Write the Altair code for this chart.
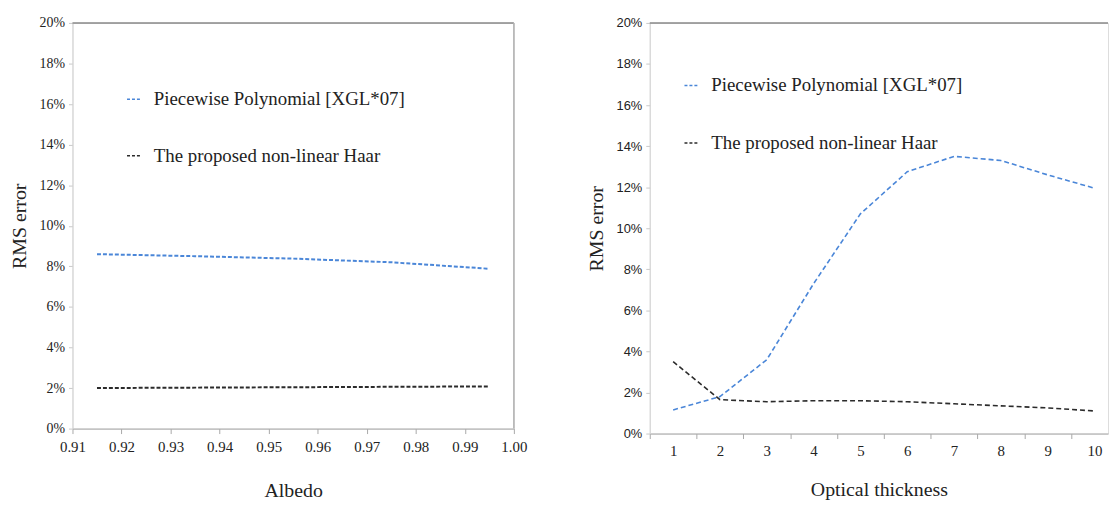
import altair as alt
import pandas as pd

series = ["Piecewise Polynomial [XGL*07]", "The proposed non-linear Haar"]
colors = ["#4a86d8", "#2b2b2b"]

# Left panel: Albedo
albedo = [0.915, 0.935, 0.955, 0.975, 0.995]
albedo_poly = [8.6, 8.5, 8.38, 8.2, 7.88]
albedo_haar = [2.0, 2.02, 2.04, 2.06, 2.08]

# Right panel: Optical thickness
thick = [1, 2, 3, 4, 5, 6, 7, 8, 9, 10]
thick_poly = [1.15, 1.8, 3.6, 7.3, 10.7, 12.75, 13.5, 13.3, 12.6, 11.95]
thick_haar = [3.5, 1.65, 1.55, 1.6, 1.6, 1.55, 1.45, 1.35, 1.25, 1.1]
thick_bounds = [0.5, 1.5, 2.5, 3.5, 4.5, 5.5, 6.5, 7.5, 8.5, 9.5]

SERIF = "Liberation Serif"
SANS = "Liberation Sans"

dfL = pd.DataFrame({
    "x": albedo * 2,
    "y": albedo_poly + albedo_haar,
    "s": [series[0]] * len(albedo) + [series[1]] * len(albedo),
})
dfR = pd.DataFrame({
    "x": thick * 2,
    "y": thick_poly + thick_haar,
    "s": [series[0]] * len(thick) + [series[1]] * len(thick),
})

color_scale = alt.Scale(domain=series, range=colors)
ysc = alt.Scale(domain=[0, 20], nice=False)

yaxis_common = dict(
    values=[0, 2, 4, 6, 8, 10, 12, 14, 16, 18, 20],
    labelExpr="datum.value + '%'",
    title="RMS error",
    titleFont=SERIF, titleFontSize=20, titleFontWeight="normal", titleColor="#222",
    labelColor="#222",
    domainColor="#d4d4d4", tickColor="#c8c8c8", tickSize=4,
    grid=False, labelPadding=4, titlePadding=10,
)


def legend_layers(x0, y0, dy):
    layers = []
    for i, name in enumerate(series):
        ly = y0 + i * dy
        d = pd.DataFrame({"s": [name]})
        layers.append(
            alt.Chart(d).mark_rule(strokeWidth=1.5, strokeDash=[3, 2]).encode(
                x=alt.value(x0), x2=alt.value(x0 + 15), y=alt.value(ly),
                color=alt.Color("s:N", scale=color_scale, legend=None),
            )
        )
        layers.append(
            alt.Chart(d).mark_text(align="left", baseline="middle", font=SERIF,
                                   fontSize=19, color="#222").encode(
                x=alt.value(x0 + 27), y=alt.value(ly), text="s:N"
            )
        )
    return layers


def border(w, h, right_side):
    d = pd.DataFrame({"b": [0]})
    out = [alt.Chart(d).mark_rule(color="#8a8a8a", strokeWidth=1.5).encode(
        x=alt.value(0), x2=alt.value(w), y=alt.value(0))]
    if right_side:
        out.append(alt.Chart(d).mark_rule(color="#b0b0b0", strokeWidth=1.5).encode(
            x=alt.value(w), y=alt.value(0), y2=alt.value(h)))
    return out


# Left chart
WL, HL = 445, 409
xL = alt.X("x:Q", scale=alt.Scale(domain=[0.91, 1.0], nice=False, zero=False),
           axis=alt.Axis(values=[0.91, 0.92, 0.93, 0.94, 0.95, 0.96, 0.97, 0.98, 0.99, 1.0],
                         format=".2f", title="Albedo", titleFont=SERIF, titleFontSize=20,
                         titleFontWeight="normal", titleColor="#222", titlePadding=26,
                         labelFont=SERIF, labelFontSize=15, labelColor="#222",
                         labelFlush=False, orient="bottom",
                         domainColor="#a8a8a8", tickColor="#a8a8a8", tickSize=5,
                         grid=False, labelPadding=6))
yL = alt.Y("y:Q", scale=ysc,
           axis=alt.Axis(labelFont=SERIF, labelFontSize=14, **yaxis_common))

linesL = alt.Chart(dfL).mark_line(strokeWidth=2, strokeDash=[4, 2]).encode(
    x=xL, y=yL,
    color=alt.Color("s:N", scale=color_scale, legend=None),
    detail="s:N",
)
left = alt.layer(*border(WL, HL, True), linesL, *legend_layers(55, 77, 57)).properties(
    width=WL, height=HL)

# Right chart
WR, HR = 462, 414
xsR = alt.Scale(domain=[0.5, 10.29], nice=False, zero=False)
step = WR / (10.29 - 0.5)
linesR = alt.Chart(dfR).mark_line(strokeWidth=1.6, strokeDash=[5, 3]).encode(
    x=alt.X("x:Q", scale=xsR,
            axis=alt.Axis(values=thick_bounds, labelExpr="format(datum.value + 0.5, 'd')",
                          labelOffset=step / 2, labelAngle=0, title="Optical thickness",
                          titleFont=SERIF, titleFontSize=20, titleFontWeight="normal",
                          titleColor="#222", titlePadding=21, labelFont=SERIF,
                          labelFontSize=15, labelColor="#222", labelFlush=False,
                          labelBound=False, orient="bottom",
                          domainColor="#a8a8a8", tickColor="#a8a8a8", tickSize=5,
                          grid=False, labelPadding=5)),
    y=alt.Y("y:Q", scale=ysc,
            axis=alt.Axis(labelFont=SANS, labelFontSize=13, **yaxis_common)),
    color=alt.Color("s:N", scale=color_scale, legend=None),
    detail="s:N",
)
right = alt.layer(*border(WR, HR, False), linesR,
                  *legend_layers(35, 63, 58)).properties(width=WR, height=HR)

chart = alt.hconcat(left, right, spacing=58).resolve_scale(
    x="independent", y="independent", color="independent"
).properties(padding={"left": 0, "right": 0, "top": 5, "bottom": 5}).configure_view(
    stroke=None).configure(background="white")

chart.save("out.html", embed_options={"renderer": "svg", "actions": False})
